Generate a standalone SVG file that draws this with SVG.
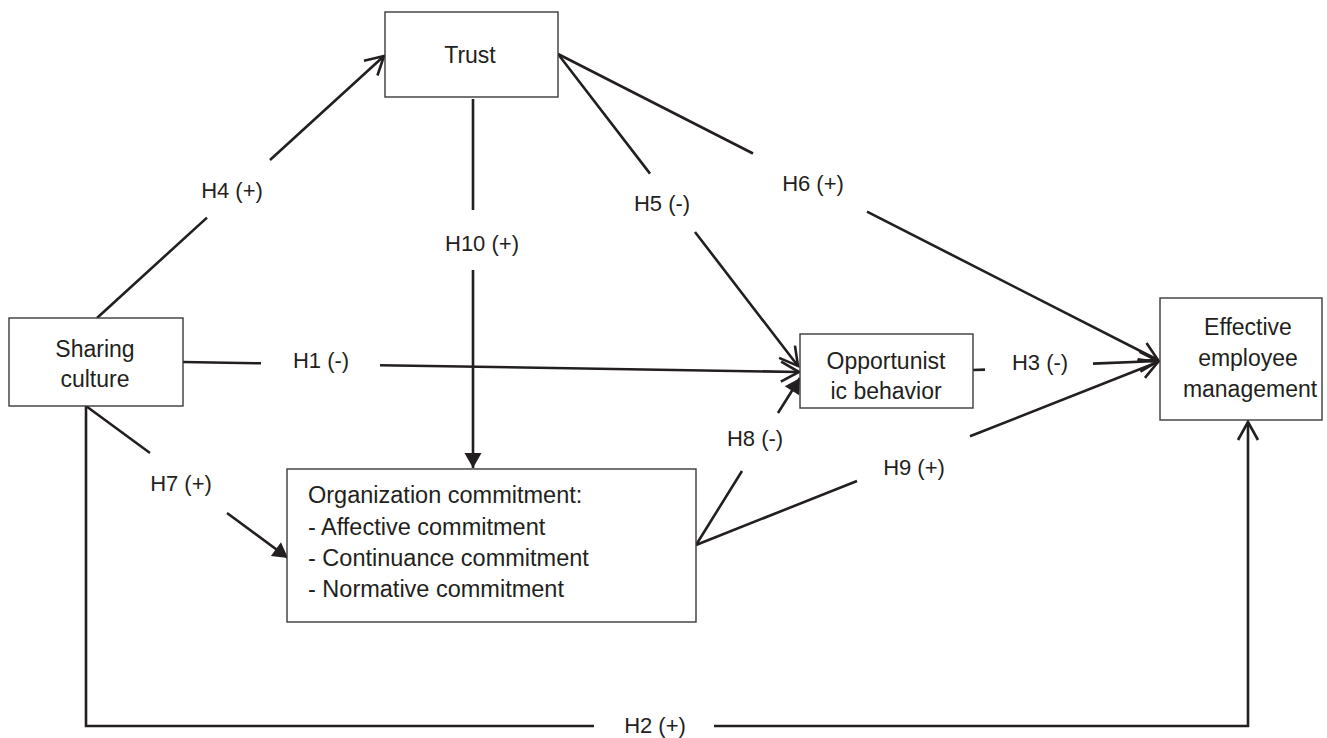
<svg xmlns="http://www.w3.org/2000/svg" width="1327" height="738" viewBox="0 0 1327 738">
<style>
.box{fill:#fff;stroke:#3a3a3a;stroke-width:1.4}
.t{font-family:"Liberation Sans",Arial,sans-serif;font-size:22px;fill:#231f20}
.n{font-size:23px}
.c{text-anchor:middle}
.ln{fill:none;stroke:#231f20;stroke-width:2.6}
.open{marker-end:url(#openArrow)}
.fill{marker-end:url(#fillArrow)}
</style>
<defs>
<marker id="openArrow" markerUnits="userSpaceOnUse" viewBox="-22 -14 26 28" refX="0" refY="0" markerWidth="26" markerHeight="28" orient="auto" overflow="visible">
<path d="M-18,-10 L0,0 L-18,10" fill="none" stroke="#231f20" stroke-width="2.6"/>
</marker>
<marker id="fillArrow" markerUnits="userSpaceOnUse" viewBox="-22 -14 26 28" refX="0" refY="0" markerWidth="26" markerHeight="28" orient="auto" overflow="visible">
<path d="M-15,-8.5 L0,0 L-15,8.5 Z" fill="#231f20" stroke="none"/>
</marker>
</defs>
<rect width="1327" height="738" fill="#fff"/>
<g id="connectors">
<path id="H4" class="ln open" d="M97,318 L207,217.6 M270,160 L384,56"/>
<path id="H1" class="ln open" d="M183,362 L261,363.3 M380,365.2 L799,372"/>
<path id="H10" class="ln fill" d="M473,99 L473,210 M473,270 L473,468"/>
<path id="H5" class="ln open" d="M558,54 L650,173.6 M695,232 L798,366"/>
<path id="H6" class="ln open" d="M558,54 L753,153.5 M867,211.6 L1158,360"/>
<path id="H3" class="ln open" d="M973,370 L985,369.6 M1093,363.6 L1158,361"/>
<path id="H9" class="ln open" d="M696,545 L857,481 M970,436.3 L1158,362"/>
<path id="H8" class="ln fill" d="M696,545 L742,471 M778,413 L800,378"/>
<path id="H7" class="ln fill" d="M86,406 L150,453 M227,513 L288,558"/>
<path id="H2" class="ln open" d="M86,406 L86,726 L594,726 M714,726 L1248,726 L1248,422"/>
<text class="t c" x="232" y="198">H4 (+)</text>
<text class="t c" x="321" y="368">H1 (-)</text>
<text class="t c" x="482" y="251">H10 (+)</text>
<text class="t c" x="662" y="211">H5 (-)</text>
<text class="t c" x="813" y="191">H6 (+)</text>
<text class="t c" x="1040" y="370">H3 (-)</text>
<text class="t c" x="914" y="475">H9 (+)</text>
<text class="t c" x="755" y="446">H8 (-)</text>
<text class="t c" x="181" y="491">H7 (+)</text>
<text class="t c" x="655" y="733">H2 (+)</text>
</g>
<g id="trust">
<rect class="box" x="385" y="12" width="173" height="85"/>
<text class="t n c" x="470" y="63">Trust</text>
</g>
<g id="sharing-culture">
<rect class="box" x="9" y="318" width="174" height="88"/>
<text class="t n c" x="95" y="357">Sharing</text>
<text class="t n c" x="95" y="387">culture</text>
</g>
<g id="opportunistic-behavior">
<rect class="box" x="800" y="334" width="173" height="74"/>
<text class="t n c" x="886" y="369">Opportunist</text>
<text class="t n c" x="886" y="399">ic behavior</text>
</g>
<g id="effective-employee-management">
<rect class="box" x="1160" y="298" width="162" height="122"/>
<text class="t n c" x="1248" y="335">Effective</text>
<text class="t n c" x="1248" y="366">employee</text>
<text class="t n c" x="1250" y="397">management</text>
</g>
<g id="organization-commitment">
<rect class="box" x="287" y="469" width="409" height="153"/>
<text class="t" x="308" y="503" style="font-size:23.5px">Organization commitment:</text>
<text class="t" x="308" y="535" style="font-size:23.5px">- Affective commitment</text>
<text class="t" x="308" y="566" style="font-size:23.5px">- Continuance commitment</text>
<text class="t" x="308" y="597" style="font-size:23.5px">- Normative commitment</text>
</g>
</svg>
